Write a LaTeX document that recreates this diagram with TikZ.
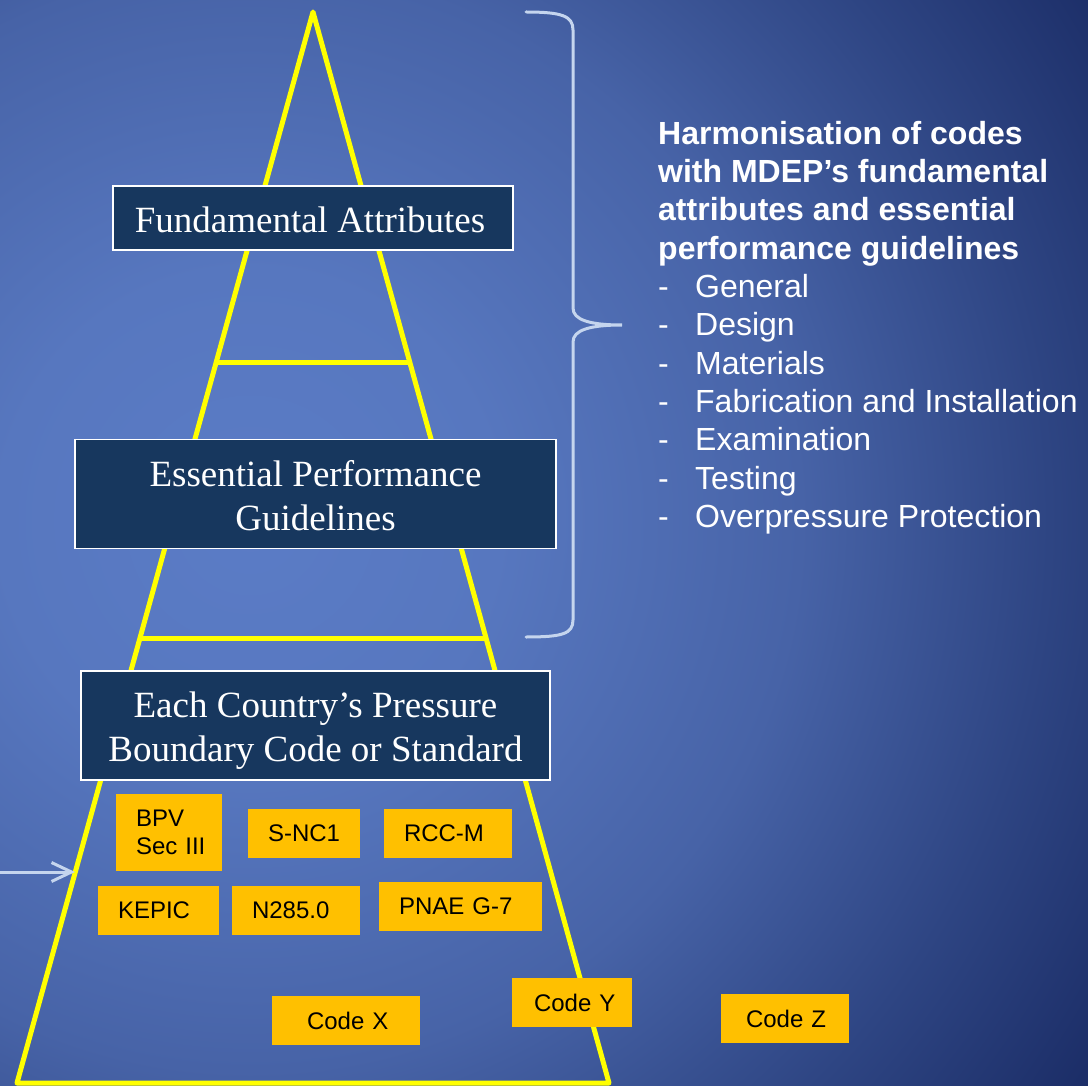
\documentclass[tikz,border=0pt]{standalone}
\usepackage{fontspec}
\setmainfont{Liberation Serif}
\newfontfamily\arialf{Liberation Sans}
\usetikzlibrary{calc,arrows.meta}
\definecolor{bgc0}{HTML}{5B7CC6}
\definecolor{bgc1}{HTML}{5777BF}
\definecolor{bgc2}{HTML}{4763A7}
\definecolor{bgc3}{HTML}{2E4583}
\definecolor{bgc4}{HTML}{1C2E68}
\definecolor{bgc5}{HTML}{18285F}
\definecolor{navy}{HTML}{17375E}
\definecolor{pyel}{HTML}{FFFF00}
\definecolor{boxy}{HTML}{FFC000}
\definecolor{bracec}{HTML}{C5D5EE}
\pgfdeclareradialshading{bgshade}{\pgfpoint{0bp}{0bp}}{color(0bp)=(bgc0); color(6.94bp)=(bgc1); color(15.3bp)=(bgc2); color(22.2bp)=(bgc3); color(27.8bp)=(bgc4); color(30.6bp)=(bgc5); color(50bp)=(bgc5)}
\newcommand\yind{\hspace*{20pt}}
\tikzset{
  pyr/.style={draw=pyel, line width=5pt, line join=round},
  tier/.style={draw=white, line width=1.5pt, fill=navy, inner sep=0pt},
  tiertext/.style={text=white, font=\fontsize{37}{44}\selectfont, align=center, inner sep=0pt},
  ybox/.style={fill=boxy, inner sep=0pt, align=left, text=black, font=\arialf\fontsize{24}{28}\selectfont},
  pale/.style={draw=bracec, line width=3pt}
}
\begin{document}
\begin{tikzpicture}[x=1pt,y=-1pt]
\useasboundingbox (0,0) rectangle (1088,1086);
\begin{scope}
\clip (0,0) rectangle (1088,1086);
\shade[shading=bgshade] (-650,-380) rectangle (1150,1420);
\end{scope}
% pyramid
\coordinate (apex) at (313,12);
\coordinate (bl) at (17,1083);
\coordinate (br) at (609,1083);
\draw[pyr] (bl) -- (apex) -- (br) -- cycle;
\draw[pyr] ($(apex)!0.3268!(bl)$) -- ($(apex)!0.3268!(br)$);
\draw[pyr] ($(apex)!0.5845!(bl)$) -- ($(apex)!0.5845!(br)$);
% tiers
\node[tier, minimum width=400pt, minimum height=64pt] (fa) at (313,218) {};
\node[tiertext] (fat) at ($(fa.center)+(-3,2)$) {Fundamental Attributes};
\node[tier, minimum width=481pt, minimum height=109pt] (epg) at (315.5,494) {};
\node[tiertext] (epgt) at ($(epg.center)+(0,2)$) {Essential Performance\\Guidelines};
\node[tier, minimum width=469pt, minimum height=109pt] (ecp) at (315.5,725.5) {};
\node[tiertext] (ecpt) at ($(ecp.center)+(0,5)$) {Each Country’s Pressure\\Boundary Code or Standard};
% code boxes
\node[ybox, text width=106pt, minimum height=77pt] (bpv) at (169,832.5) {\yind BPV\\\yind Sec III};
\node[ybox, text width=112pt, minimum height=49pt] (snc) at (304,833.5) {\yind S-NC1};
\node[ybox, text width=128pt, minimum height=49pt] (rcc) at (448,833.5) {\yind RCC-M};
\node[ybox, text width=121pt, minimum height=49pt] (kep) at (158.5,910.5) {\yind KEPIC};
\node[ybox, text width=128pt, minimum height=49pt] (n285) at (296,910.5) {\yind N285.0};
\node[ybox, text width=163pt, minimum height=49pt] (pnae) at (460.5,906.5) {\yind PNAE G-7};
\node[ybox, text width=148pt, minimum height=49pt] (cx) at (346,1020.5) {\hspace*{35pt}Code X};
\node[ybox, text width=120pt, minimum height=49pt] (cy) at (572,1002.5) {\hspace*{22pt}Code Y};
\node[ybox, text width=128pt, minimum height=49pt] (cz) at (785,1018.5) {\hspace*{25pt}Code Z};
% arrow
\coordinate (arrS) at (0,872);
\coordinate (arrE) at (75,872);
\draw[pale, -{Straight Barb[length=20pt,width=19pt]}] (arrS) -- (arrE);
% brace
\draw[pale, line cap=round] (526,12) .. controls (562,12) and (573,16) .. (573,30) -- (573,308) .. controls (573,320) and (590,325) .. (622,325) .. controls (590,325) and (573,330) .. (573,342) -- (573,620) .. controls (573,634) and (562,637) .. (526,637);
% right text
\node[anchor=north west, inner sep=0pt, text=white, align=left, font=\arialf\fontsize{32}{38.3}\selectfont] (harm) at (658,121) {\textbf{Harmonisation of codes}\\\textbf{with MDEP’s fundamental}\\\textbf{attributes and essential}\\\textbf{performance guidelines}\\\makebox[37pt][l]{-}General\\\makebox[37pt][l]{-}Design\\\makebox[37pt][l]{-}Materials\\\makebox[37pt][l]{-}Fabrication and Installation\\\makebox[37pt][l]{-}Examination\\\makebox[37pt][l]{-}Testing\\\makebox[37pt][l]{-}Overpressure Protection};
\end{tikzpicture}
\end{document}
